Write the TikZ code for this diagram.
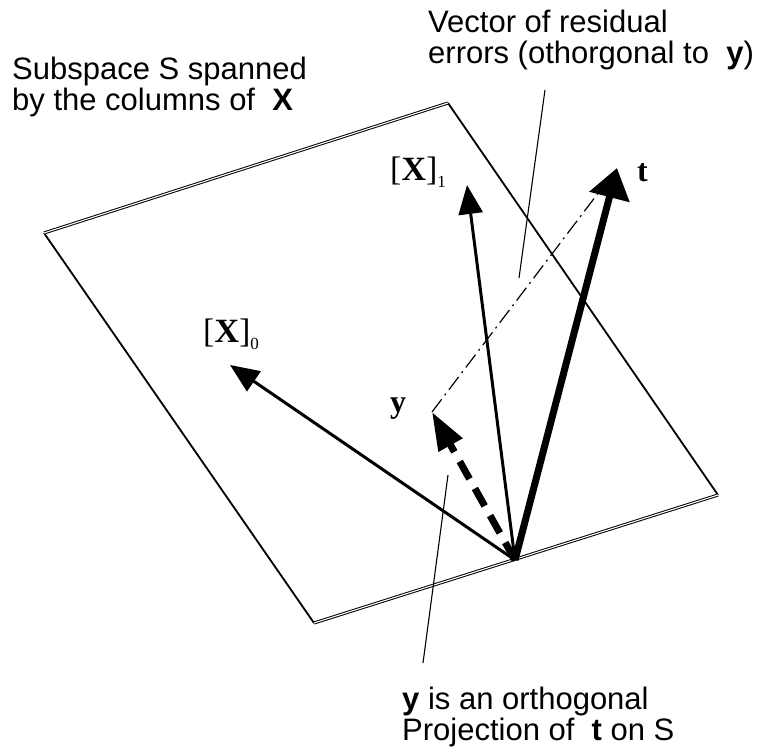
\documentclass[tikz,border=0pt]{standalone}
\usepackage{fontspec}
\setmainfont{Liberation Sans}
\newfontfamily\tms{Liberation Serif}
\usetikzlibrary{arrows.meta}
\begin{document}
\begin{tikzpicture}[x=1pt,y=-1pt,
  lbl/.style={font=\fontsize{31}{30.5}\selectfont, inner sep=0pt, align=left, anchor=base west},
  mlbl/.style={font=\tms\fontsize{34}{34}\selectfont, inner sep=0pt, anchor=base west},
  vec/.style={line width=3pt, -{Triangle[length=29pt,width=24pt]}},
  bigvec/.style={line width=7pt, -{Triangle[length=30pt,width=40pt]}},
  projvec/.style={line width=7pt, dash pattern=on 20pt off 11pt, -{Triangle[length=38pt,width=26pt]}},
  resid/.style={line width=1.2pt, dash pattern=on 16pt off 5pt on 2pt off 5pt},
  plane/.style={line width=1.8pt},
  planedbl/.style={double, line width=1pt, double distance=1.1pt},
  lead/.style={line width=1.1pt},
]
\useasboundingbox (0,0) rectangle (772,753);
% plane
\coordinate (L) at (44,233);
\coordinate (T) at (448,103);
\coordinate (R) at (718,495);
\coordinate (B) at (314,623);
\draw[plane] (T) -- (R);
\draw[plane] (L) -- (B);
\draw[planedbl] (L) -- (T);
\draw[planedbl] (B) -- (R);
% vectors
\coordinate (O) at (515,560);
\coordinate (x0) at (230,365);
\coordinate (x1) at (467,185);
\coordinate (tt) at (617,168);
\coordinate (yy) at (432,412);
\coordinate (re) at (602,188);
\draw[resid] (yy) -- (re);
\draw[vec] (O) -- (x0);
\draw[vec] (O) -- (x1);
\draw[bigvec] (O) -- (tt);
\draw[projvec] (O) -- (yy);
% math labels
\node[mlbl] (lx0) at (203,342) {[\textbf{X}]\raisebox{-7pt}{\fontsize{17}{17}\selectfont 0}};
\node[mlbl] (lx1) at (390,180) {[\textbf{X}]\raisebox{-7pt}{\fontsize{17}{17}\selectfont 1}};
\node[mlbl,font=\tms\fontsize{32}{32}\selectfont] (ly) at (390,412) {\textbf{y}};
\node[mlbl,font=\tms\fontsize{32}{32}\selectfont] (lt) at (637,181) {\textbf{t}};
% text labels (base anchor = baseline of last line)
\node[lbl] (sub) at (12,110) {Subspace S spanned\\by the columns of\ \ \textbf{X}};
\node[lbl] (res) at (428,63) {Vector of residual\\errors (othorgonal to\ \ \textbf{y})};
\node[lbl] (proj) at (402,740) {\textbf{y} is an orthogonal\\Projection of\ \ \textbf{t} on S};
% leaders
\coordinate (r1) at (545,90);
\coordinate (r2) at (519,278);
\draw[lead] (r1) -- (r2);
\coordinate (p1) at (448,475);
\coordinate (p2) at (423,663);
\draw[lead] (p1) -- (p2);
\end{tikzpicture}
\end{document}
